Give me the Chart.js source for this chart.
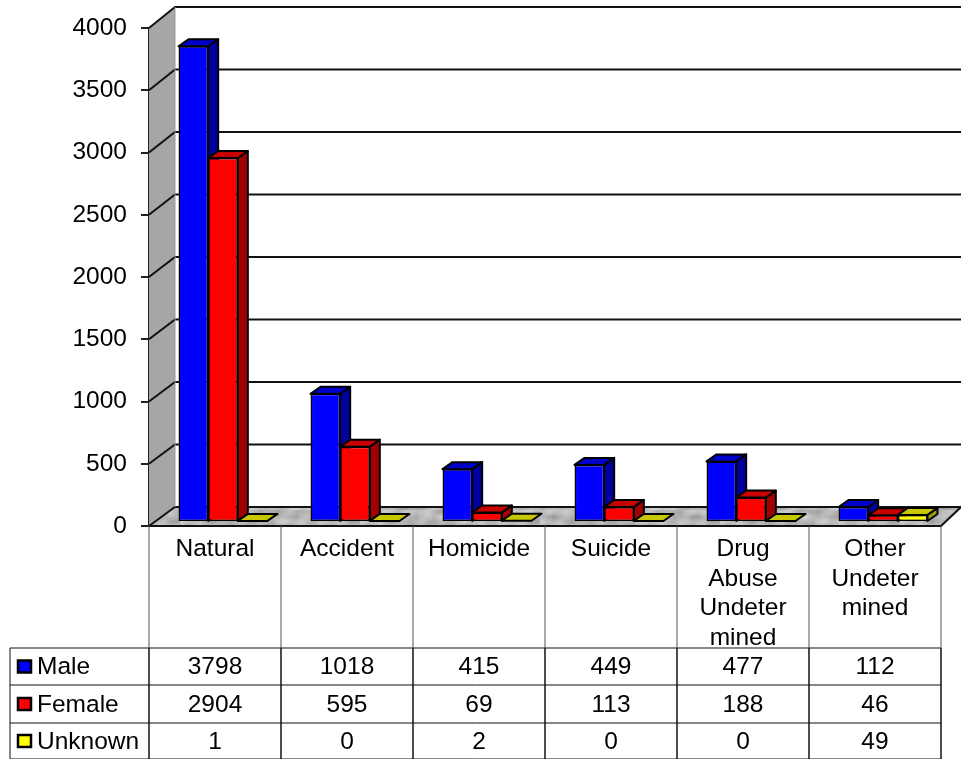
<!DOCTYPE html>
<html>
<head>
<meta charset="utf-8">
<title>Deaths by manner and sex</title>
<script src="https://cdn.jsdelivr.net/npm/chart.js@4"></script>
<style>
  body { margin: 0; background: #fff; }
  canvas { display: block; filter: blur(0.4px); }
</style>
</head>
<body>
<canvas id="chart" width="961" height="759"></canvas>
<script>
const categories = ["Natural", "Accident", "Homicide", "Suicide", ["Drug", "Abuse", "Undeter", "mined"], ["Other", "Undeter", "mined"]];
const male = [3798, 1018, 415, 449, 477, 112];
const female = [2904, 595, 69, 113, 188, 46];
const unknown = [1, 0, 2, 0, 0, 49];
const yTicks = [0, 500, 1000, 1500, 2000, 2500, 3000, 3500, 4000];

const FONT_FAMILY = "'Liberation Sans', Arial, sans-serif";
const FONT_SIZE = 24.5;
const WALL = { dx: 26, dy: 19 };    // depth of the box
const BAR = { dx: 10, dy: 7 };      // depth of a bar
const SHIFT = { x: 8, y: -5 };      // bars stand inside the floor
const RIGHT_EDGE = 961;
const ROWS = [648, 685, 723, 759];
const TABLE_LEFT = 10;

function polygon(ctx, pts, fill, stroke, width) {
  ctx.beginPath();
  pts.forEach((p, i) => (i ? ctx.lineTo(p[0], p[1]) : ctx.moveTo(p[0], p[1])));
  ctx.closePath();
  if (fill) { ctx.fillStyle = fill; ctx.fill(); }
  if (stroke) { ctx.strokeStyle = stroke; ctx.lineWidth = width || 1; ctx.lineJoin = "round"; ctx.stroke(); }
}

// soft grey marble for the floor
function floorPattern(ctx) {
  const c = document.createElement("canvas");
  c.width = 180; c.height = 30;
  const g = c.getContext("2d");
  g.fillStyle = "#bcbcbc";
  g.fillRect(0, 0, 180, 30);
  g.filter = "blur(2px)";
  for (let x = 0; x < 180; x += 6) {
    for (let y = 0; y < 30; y += 5) {
      const n = Math.sin(x * 0.13 + y * 0.7) + Math.sin(x * 0.047 - y * 0.4) + Math.sin(x * 0.31 + y * 0.2);
      const v = Math.round(184 + n * 18);
      g.fillStyle = `rgb(${v},${v},${v})`;
      g.fillRect(x, y, 6, 5);
    }
  }
  return ctx.createPattern(c, "repeat");
}

const boxPlugin = {
  id: "box",
  beforeDatasetsDraw(chart) {
    const { ctx, chartArea: a, scales: { y, yBars } } = chart;
    const back = (t) => yBars.getPixelForValue(t) - WALL.dy;
    const y0 = y.getPixelForValue(0);
    const yTop = y.getPixelForValue(4000);
    const floorBack = back(0);
    ctx.save();
    // left wall
    polygon(ctx, [[a.left, yTop], [a.left + WALL.dx, back(4000)], [a.left + WALL.dx, floorBack], [a.left, y0]], "#a6a6a6");
    // floor
    polygon(ctx, [[a.left, y0], [a.left + WALL.dx, floorBack], [RIGHT_EDGE, floorBack], [a.right, y0]], floorPattern(ctx));
    // gridlines over wall and back
    yTicks.forEach((t) => {
      ctx.beginPath();
      ctx.moveTo(a.left, y.getPixelForValue(t));
      ctx.lineTo(a.left + WALL.dx, back(t));
      ctx.lineTo(RIGHT_EDGE, back(t));
      ctx.strokeStyle = "#111";
      ctx.lineWidth = 2;
      ctx.stroke();
    });
    ctx.beginPath();
    ctx.moveTo(a.left + WALL.dx, back(4000));
    ctx.lineTo(a.left + WALL.dx, floorBack);
    ctx.strokeStyle = "#999";
    ctx.lineWidth = 1;
    ctx.stroke();
    // floor front edge
    ctx.beginPath();
    ctx.moveTo(a.left, y0);
    ctx.lineTo(a.right, y0);
    ctx.lineTo(RIGHT_EDGE, floorBack);
    ctx.strokeStyle = "#111";
    ctx.lineWidth = 2;
    ctx.stroke();
    ctx.restore();
  },
  // the library paints last-positioned bars first; here each bar must cover its left neighbour's side
  beforeDatasetDraw() {
    return false;
  },
  afterDatasetsDraw(chart) {
    const ctx = chart.ctx;
    ctx.save();
    ctx.translate(SHIFT.x, SHIFT.y);
    const count = chart.data.labels.length;
    for (let i = 0; i < count; i++) {
      chart.data.datasets.forEach((ds, d) => {
        const bar = chart.getDatasetMeta(d).data[i];
        const l = bar.x - bar.width / 2, r = bar.x + bar.width / 2;
        const t = bar.y, b = bar.base;
        if (b - t > 0.5) {
          polygon(ctx, [[r, t], [r + BAR.dx, t - BAR.dy], [r + BAR.dx, b - BAR.dy], [r, b]], ds.sideColor, "#000", 2);
        }
        polygon(ctx, [[l, t], [l + BAR.dx, t - BAR.dy], [r + BAR.dx, t - BAR.dy], [r, t]], ds.topColor, "#000", 2);
        bar.draw(ctx);
      });
    }
    ctx.restore();
  },
  afterDraw(chart) {
    const { ctx, chartArea: a, scales: { x, y } } = chart;
    const y0 = y.getPixelForValue(0);
    const half = (x.getPixelForValue(1) - x.getPixelForValue(0)) / 2;
    const edges = [a.left];
    categories.forEach((_, i) => edges.push(x.getPixelForValue(i) + half));
    ctx.save();

    // category cell rules
    ctx.strokeStyle = "#555";
    ctx.lineWidth = 1;
    edges.forEach((ex) => {
      ctx.beginPath();
      ctx.moveTo(ex, y0);
      ctx.lineTo(ex, ROWS[0]);
      ctx.stroke();
    });

    // value table rules
    ctx.strokeStyle = "#111";
    ROWS.forEach((ry) => {
      ctx.beginPath();
      ctx.moveTo(TABLE_LEFT, ry);
      ctx.lineTo(a.right, ry);
      ctx.stroke();
    });
    [TABLE_LEFT].concat(edges).forEach((ex, i) => {
      ctx.lineWidth = i === 0 ? 1 : 1.5;
      ctx.beginPath();
      ctx.moveTo(ex, ROWS[0]);
      ctx.lineTo(ex, ROWS[3]);
      ctx.stroke();
    });

    // rows
    ctx.font = `${FONT_SIZE}px ${FONT_FAMILY}`;
    ctx.textBaseline = "middle";
    chart.data.datasets.forEach((ds, row) => {
      const cy = (ROWS[row] + ROWS[row + 1]) / 2;
      ctx.fillStyle = ds.backgroundColor;
      ctx.strokeStyle = "#000";
      ctx.lineWidth = 2.5;
      ctx.beginPath();
      ctx.rect(18, cy - 6, 13, 12);
      ctx.fill();
      ctx.stroke();
      ctx.fillStyle = "#000";
      ctx.textAlign = "left";
      ctx.fillText(ds.label, 37, cy + 1);
      ctx.textAlign = "center";
      ds.data.forEach((v, i) => ctx.fillText(String(v), x.getPixelForValue(i), cy + 1));
    });
    ctx.restore();
  }
};

function makeSet(label, data, color, top, side) {
  return {
    label, data,
    yAxisID: "yBars",
    backgroundColor: color,
    topColor: top,
    sideColor: side,
    borderColor: "#000",
    borderWidth: 1.5,
    borderSkipped: false,
    categoryPercentage: 0.674,
    barPercentage: 1
  };
}

new Chart(document.getElementById("chart"), {
  type: "bar",
  data: {
    labels: categories,
    datasets: [
      makeSet("Male", male, "#0000ff", "#0000c8", "#0000a0"),
      makeSet("Female", female, "#ff0000", "#c80000", "#a00000"),
      makeSet("Unknown", unknown, "#ffff00", "#c8c800", "#a0a000")
    ]
  },
  options: {
    responsive: false,
    animation: false,
    layout: { padding: { left: 0, top: 28, right: 20, bottom: 0 } },
    plugins: { legend: { display: false }, tooltip: { enabled: false } },
    scales: {
      x: {
        afterFit: (s) => { s.height = 233; },
        grid: { display: false },
        border: { display: false },
        ticks: {
          color: "#000",
          padding: 1,
          autoSkip: false,
          maxRotation: 0,
          font: { family: FONT_FAMILY, size: FONT_SIZE }
        }
      },
      y: {
        min: 0,
        max: 4000,
        afterFit: (s) => { s.width = 149; s.paddingTop = 0; s.paddingBottom = 0; },
        afterBuildTicks: (s) => { s.ticks = yTicks.map((value) => ({ value })); },
        grid: { drawOnChartArea: false, color: "#222", lineWidth: 2, tickLength: 8 },
        border: { color: "#222", width: 2 },
        ticks: {
          color: "#000",
          padding: 14,
          callback: (v) => String(v),
          font: { family: FONT_FAMILY, size: FONT_SIZE }
        }
      },
      // the back of the box is slightly taller than the front axis; bars and back lines use this one
      yBars: { display: false, min: 0, max: 3984 }
    }
  },
  plugins: [boxPlugin]
});
</script>
</body>
</html>
